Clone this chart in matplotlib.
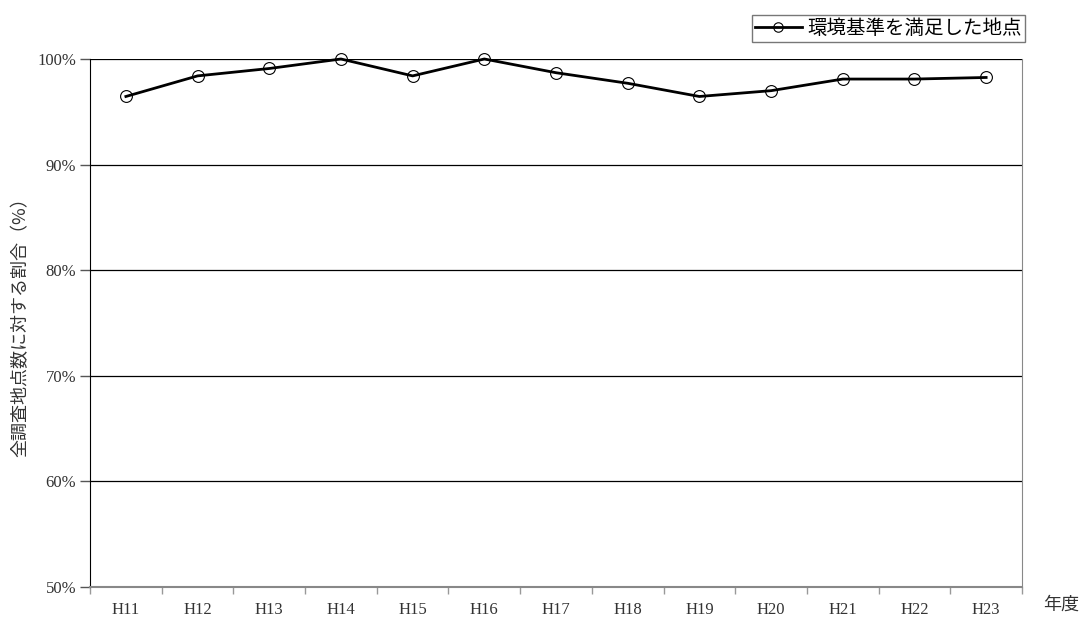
import matplotlib
matplotlib.use("Agg")
import matplotlib.pyplot as plt
from matplotlib.ticker import FixedLocator

# data
years = ["H11", "H12", "H13", "H14", "H15", "H16", "H17",
         "H18", "H19", "H20", "H21", "H22", "H23"]
rate = [96.45, 98.4, 99.1, 100.0, 98.4, 100.0, 98.7,
        97.7, 96.45, 97.0, 98.1, 98.1, 98.25]
yticks = [50, 60, 70, 80, 90, 100]

jp = ["Noto Sans CJK JP", "DejaVu Sans"]
serif = ["Liberation Serif", "DejaVu Serif"]

fig = plt.figure(figsize=(10.81, 6.19), dpi=100)
ax = fig.add_axes([0.0833, 0.0517, 0.8621, 0.853])

x = list(range(len(years)))
ax.plot(x, rate, color="black", linewidth=2, marker="o", markersize=8.5,
        markerfacecolor="none", markeredgecolor="black", markeredgewidth=0.8,
        label="環境基準を満足した地点", clip_on=False, zorder=3)

ax.set_xlim(-0.5, len(years) - 0.5)
ax.set_ylim(50, 100)

# y axis
ax.set_yticks(yticks)
ax.set_yticklabels([f"{v}%" for v in yticks], fontfamily=serif, fontsize=12, color="#333333")
ax.tick_params(axis="y", direction="out", length=7, width=1, color="#555555", pad=3)
ax.yaxis.grid(True, color="black", linewidth=0.9)

# x axis: ticks on boundaries, labels in the middle
ax.xaxis.set_major_locator(FixedLocator([i - 0.5 for i in range(len(years) + 1)]))
ax.xaxis.set_minor_locator(FixedLocator(x))
ax.set_xticklabels([])
ax.set_xticklabels(years, minor=True, fontfamily=serif, fontsize=12, color="#333333")
ax.tick_params(axis="x", which="major", direction="out", length=5, width=1, color="#999999")
ax.tick_params(axis="x", which="minor", length=0, pad=11)

ax.spines["left"].set_color("black")
ax.spines["top"].set_visible(False)
ax.spines["right"].set_color("#888888")
ax.spines["bottom"].set_color("#888888")
ax.spines["bottom"].set_linewidth(1.5)

ax.set_ylabel("全調査地点数に対する割合（%）", fontfamily=jp, fontsize=13, color="#333333", labelpad=6)
fig.text(0.9648, 0.008, "年度", fontfamily=jp, fontsize=13, color="#333333", ha="left", va="bottom")

leg = ax.legend(loc="upper right", bbox_to_anchor=(1.0032, 1.0833), prop={"family": jp, "size": 14},
                frameon=True, fancybox=False, edgecolor="#555555", handlelength=2.4,
                handletextpad=0.3, borderpad=0.15, borderaxespad=0, markerscale=0.8)
leg.get_frame().set_linewidth(1)

fig.savefig("out.png", dpi=100)
